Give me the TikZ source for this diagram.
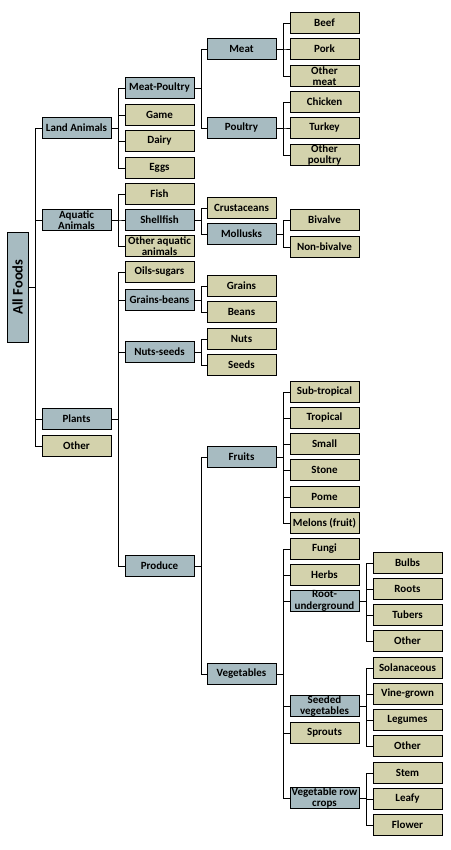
\documentclass[tikz,border=0pt]{standalone}
\usepackage{fontspec}
\setmainfont{Carlito}
\usetikzlibrary{positioning}

\definecolor{grpfill}{RGB}{167,187,193}
\definecolor{leaffill}{RGB}{211,210,172}

\begin{document}
\begin{tikzpicture}[
  x=1pt,y=-1pt,
  font=\bfseries\fontsize{11}{11.5}\selectfont,
  grp/.style={rectangle,draw=black,line width=0.9pt,fill=grpfill,
              minimum width=69pt,minimum height=21pt,inner sep=0pt,align=center},
  leaf/.style={grp,fill=leaffill},
  link/.style={draw=black,line width=0.9pt}
]
\useasboundingbox (0,0) rectangle (450,850);

% ---- root ----
\node[grp,minimum width=110pt,rotate=90,font=\bfseries\fontsize{14.5}{16}\selectfont] (allfoods) at (17.5,287) {All Foods};

% ---- level 1 ----
\node[grp]  (land)    at (76.5,128) {Land Animals};
\node[grp]  (aquatic) at (76.5,220) {Aquatic\\Animals};
\node[grp]  (plants)  at (76.5,419) {Plants};
\node[leaf] (other)   at (76.5,446) {Other};

% ---- level 2 ----
\node[grp]  (meatpoultry)  at (159.5,88)  {Meat-Poultry};
\node[leaf] (game)         at (159.5,115) {Game};
\node[leaf] (dairy)        at (159.5,141) {Dairy};
\node[leaf] (eggs)         at (159.5,168) {Eggs};
\node[leaf] (fish)         at (159.5,194) {Fish};
\node[grp]  (shellfish)    at (159.5,220) {Shellfish};
\node[leaf] (otheraquatic) at (159.5,246) {Other aquatic\\animals};
\node[leaf] (oils)         at (159.5,272) {Oils-sugars};
\node[grp]  (grainsbeans)  at (159.5,300) {Grains-beans};
\node[grp]  (nutsseeds)    at (159.5,352) {Nuts-seeds};
\node[grp]  (produce)      at (159.5,566) {Produce};

% ---- level 3 ----
\node[grp]  (meat)     at (241.5,49)  {Meat};
\node[grp]  (poultry)  at (241.5,128) {Poultry};
\node[leaf] (crust)    at (241.5,208) {Crustaceans};
\node[grp]  (mollusks) at (241.5,234) {Mollusks};
\node[leaf] (grains)   at (241.5,286) {Grains};
\node[leaf] (beans)    at (241.5,312) {Beans};
\node[leaf] (nuts)     at (241.5,339) {Nuts};
\node[leaf] (seeds)    at (241.5,365) {Seeds};
\node[grp]  (fruits)   at (241.5,457) {Fruits};
\node[grp]  (veg)      at (241.5,674) {Vegetables};

% ---- level 4 ----
\node[leaf] (beef)         at (324.5,23)  {Beef};
\node[leaf] (pork)         at (324.5,49)  {Pork};
\node[leaf] (othermeat)    at (324.5,76)  {Other\\meat};
\node[leaf] (chicken)      at (324.5,102) {Chicken};
\node[leaf] (turkey)       at (324.5,128) {Turkey};
\node[leaf] (otherpoultry) at (324.5,155) {Other\\poultry};
\node[leaf] (bivalve)      at (324.5,220) {Bivalve};
\node[leaf] (nonbivalve)   at (324.5,247) {Non-bivalve};
\node[leaf] (subtrop)      at (324.5,392) {Sub-tropical};
\node[leaf] (trop)         at (324.5,418) {Tropical};
\node[leaf] (small)        at (324.5,444) {Small};
\node[leaf] (stone)        at (324.5,470) {Stone};
\node[leaf] (pome)         at (324.5,497) {Pome};
\node[leaf] (melons)       at (324.5,523) {Melons (fruit)};
\node[leaf] (fungi)        at (324.5,549) {Fungi};
\node[leaf] (herbs)        at (324.5,575) {Herbs};
\node[grp]  (rootug)       at (324.5,601) {Root-\\underground};
\node[grp]  (seeded)       at (324.5,706) {Seeded\\vegetables};
\node[leaf] (sprouts)      at (324.5,733) {Sprouts};
\node[grp]  (rowcrops)     at (324.5,798) {Vegetable row\\crops};

% ---- level 5 ----
\node[leaf] (bulbs)     at (407.5,563) {Bulbs};
\node[leaf] (roots)     at (407.5,589) {Roots};
\node[leaf] (tubers)    at (407.5,615) {Tubers};
\node[leaf] (otherroot) at (407.5,641) {Other};
\node[leaf] (solan)     at (407.5,668) {Solanaceous};
\node[leaf] (vine)      at (407.5,694) {Vine-grown};
\node[leaf] (legumes)   at (407.5,720) {Legumes};
\node[leaf] (otherseed) at (407.5,746) {Other};
\node[leaf] (stem)      at (407.5,773) {Stem};
\node[leaf] (leafy)     at (407.5,799) {Leafy};
\node[leaf] (flower)    at (407.5,825) {Flower};

% ---- elbow connectors: parent -> trunk -> child west ----
% root box is rotated, so its right side is its south anchor
\foreach \c in {land,aquatic,plants,other}
  \draw[link] (allfoods.south) -- ++(7,0) |- (\c.west);
\foreach \p/\kids in {
  land/{meatpoultry,game,dairy,eggs},
  aquatic/{fish,shellfish,otheraquatic},
  plants/{oils,grainsbeans,nutsseeds,produce},
  meatpoultry/{meat,poultry},
  shellfish/{crust,mollusks},
  grainsbeans/{grains,beans},
  nutsseeds/{nuts,seeds},
  produce/{fruits,veg},
  meat/{beef,pork,othermeat},
  poultry/{chicken,turkey,otherpoultry},
  mollusks/{bivalve,nonbivalve},
  fruits/{subtrop,trop,small,stone,pome,melons},
  veg/{fungi,herbs,rootug,seeded,sprouts,rowcrops},
  rootug/{bulbs,roots,tubers,otherroot},
  seeded/{solan,vine,legumes,otherseed},
  rowcrops/{stem,leafy,flower}}{
  \foreach \c in \kids
    \draw[link] (\p.east) -- ++(7,0) |- (\c.west);
}

\end{tikzpicture}
\end{document}
